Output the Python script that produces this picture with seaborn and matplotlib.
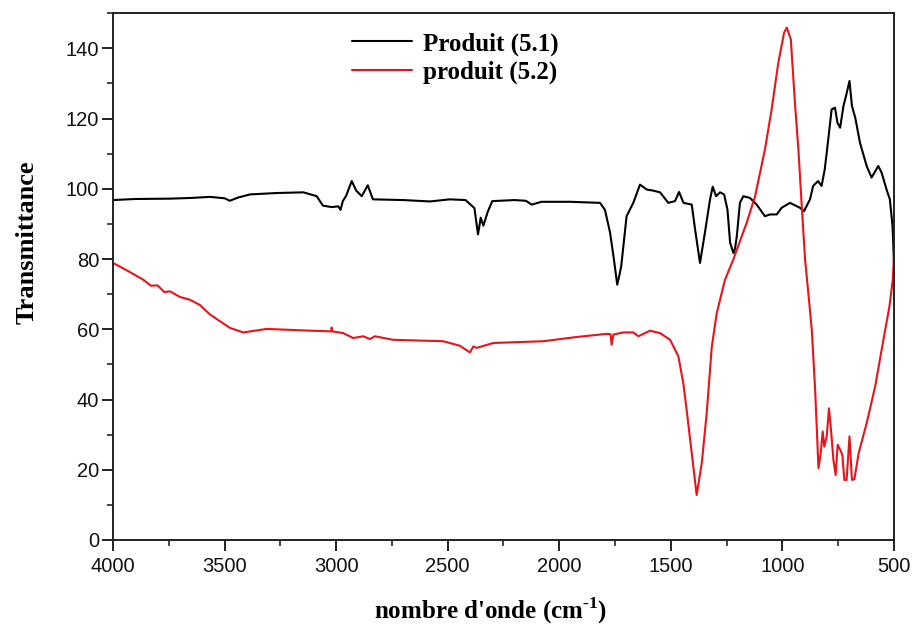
import matplotlib
matplotlib.use("Agg")
import matplotlib.pyplot as plt
from matplotlib.ticker import MultipleLocator
import pandas as pd
import seaborn as sns

# FTIR spectrum of product 5.1 (wavenumber in cm-1, transmittance)
wn_51 = [4000, 3900, 3744, 3650, 3565, 3500, 3476, 3440, 3386, 3266, 3147, 3087,
         3059, 3020, 2990, 2980, 2970, 2955, 2930, 2910, 2885, 2858, 2835, 2700,
         2579, 2490, 2420, 2380, 2364, 2355, 2352, 2340, 2320, 2300, 2200, 2150,
         2123, 2080, 1950, 1907, 1817, 1795, 1772, 1755, 1740, 1730, 1722, 1698,
         1668, 1638, 1608, 1580, 1548, 1511, 1481, 1463, 1443, 1406, 1391, 1369,
         1347, 1324, 1312, 1297, 1279, 1261, 1246, 1234, 1219, 1212, 1204, 1190,
         1175, 1145, 1115, 1078, 1055, 1025, 1003, 966, 921, 903, 876, 862, 840,
         824, 810, 801, 779, 764, 753, 741, 726, 714, 699, 688, 673, 652, 622,
         600, 570, 555, 533, 518, 506, 500]
t_51 = [96.8, 97.1, 97.2, 97.4, 97.7, 97.3, 96.6, 97.5, 98.4, 98.8, 99.0, 97.9,
        95.2, 94.8, 95.0, 94.0, 96.5, 98.0, 102.2, 99.5, 97.9, 101.0, 97.0, 96.8,
        96.4, 97.0, 96.8, 94.5, 87.0, 90.5, 91.8, 89.5, 93.5, 96.5, 96.8, 96.6,
        95.5, 96.3, 96.3, 96.2, 96.0, 94.0, 87.5, 80.0, 72.7, 75.5, 78.0, 92.2,
        96.0, 101.2, 99.8, 99.5, 99.0, 96.0, 96.5, 99.1, 96.0, 95.5, 88.4, 78.9,
        87.5, 97.0, 100.6, 97.9, 99.0, 98.4, 94.1, 84.6, 81.7, 83.0, 86.5, 96.0,
        97.9, 97.4, 95.5, 92.2, 92.7, 92.7, 94.6, 96.0, 94.6, 93.6, 97.0, 100.8, 102.2,
        100.8, 105.5, 110.3, 122.6, 123.1, 118.8, 117.4, 123.6, 126.6, 130.7, 123.6, 120.2, 113.1, 106.5,
        103.2, 106.5, 104.6, 99.8, 97.0, 89.3, 79.5]

# FTIR spectrum of product 5.2
wn_52 = [4000, 3930, 3864, 3830, 3800, 3770, 3744, 3700, 3655, 3610, 3565, 3476,
         3416, 3311, 3117, 3022, 3020, 3016, 2968, 2923, 2878, 2848, 2826, 2744,
         2520, 2445, 2400, 2385, 2370, 2295, 2071, 1922, 1787, 1770, 1765, 1757,
         1713, 1668, 1645, 1593, 1548, 1503, 1466, 1444, 1429, 1406, 1384, 1361,
         1339, 1316, 1294, 1257, 1219, 1160, 1122, 1078, 1048, 1018, 992, 980, 962,
         943, 928, 913, 898, 883, 868, 853, 838, 828, 819, 812, 801, 791, 782, 771,
         761, 752, 741, 731, 722, 712, 699, 688, 677, 658, 622, 584, 547, 520, 505, 500]
t_52 = [78.9, 76.5, 74.1, 72.4, 72.5, 70.6, 70.8, 69.2, 68.4, 66.9, 64.2, 60.4,
        59.1, 60.1, 59.6, 59.4, 60.5, 59.4, 58.9, 57.5, 58.0, 57.2, 58.0, 57.0,
        56.6, 55.3, 53.4, 55.1, 54.7, 56.1, 56.6, 57.8, 58.7, 58.6, 55.6, 58.5,
        59.1, 59.1, 58.0, 59.6, 58.9, 57.0, 52.3, 44.7, 37.1, 24.7, 12.8, 21.9,
        36.1, 55.1, 64.6, 74.1, 80.0, 90.3, 97.9, 111.2, 122.6, 135.9, 144.5, 145.9, 142.6,
        124.0, 111.2, 95.1, 79.8, 70.0, 59.9, 42.8, 20.4, 24.7, 30.9, 26.6, 29.5, 37.5, 31.4, 22.8,
        18.5, 27.1, 25.7, 24.2, 17.1, 17.1, 29.5, 17.1, 17.3, 24.7, 33.3, 43.7, 57.0, 66.5, 74.1, 80.4]

labels = ["Produit (5.1)", "produit (5.2)"]
colors = ["#000000", "#e8141b"]

df = pd.concat([
    pd.DataFrame({"wn": wn_51, "T": t_51, "s": labels[0]}),
    pd.DataFrame({"wn": wn_52, "T": t_52, "s": labels[1]}),
])

sns.set_style("ticks")
plt.rcParams["font.family"] = ["Liberation Sans", "DejaVu Sans"]
plt.rcParams["text.color"] = "#000000"
plt.rcParams["axes.labelcolor"] = "#000000"
plt.rcParams["mathtext.fontset"] = "custom"
plt.rcParams["mathtext.rm"] = "Liberation Serif:bold"
plt.rcParams["mathtext.bf"] = "Liberation Serif:bold"

fig = plt.figure(figsize=(9.14, 6.30), dpi=100)
ax = fig.add_axes([0.1236, 0.1429, 0.978 - 0.1236, 0.979 - 0.1429])

sns.lineplot(data=df, x="wn", y="T", hue="s", palette=colors, estimator=None,
             sort=False, linewidth=1.5, ax=ax)

ax.set_xlim(4000, 500)
ax.set_ylim(0, 150)
ax.xaxis.set_major_locator(MultipleLocator(500))
ax.xaxis.set_minor_locator(MultipleLocator(250))
ax.yaxis.set_major_locator(MultipleLocator(20))
ax.yaxis.set_minor_locator(MultipleLocator(10))
ax.tick_params(which="major", direction="out", length=8, width=1.3,
               labelsize=14.5, colors="#111111")
ax.tick_params(axis="x", which="major", pad=4)
ax.tick_params(axis="y", which="major", pad=2)
ax.tick_params(which="minor", direction="out", length=4.5, width=1.2)
ax.tick_params(top=False, right=False, which="both")
for sp in ax.spines.values():
    sp.set_linewidth(1.4)
    sp.set_color("#222222")
    sp.set_visible(True)

serif = ["Liberation Serif", "DejaVu Serif"]
ax.set_xlabel("nombre d'onde (cm$^{\\text{-1}}$)", fontsize=18, fontweight="bold",
              family=serif, color="#000000")
ax.xaxis.set_label_coords(0.483, -0.106)
ax.set_ylabel("Transmittance", fontsize=19, fontweight="bold", family=serif,
              color="#000000")
ax.yaxis.set_label_coords(-0.095, 0.565)

leg = ax.legend(loc="upper left", bbox_to_anchor=(0.306, 0.964), frameon=False,
                borderpad=0, borderaxespad=0,
                handlelength=2.4, handletextpad=0.45, labelspacing=0.2,
                prop={"family": serif, "weight": "bold", "size": 18})
for line in leg.get_lines():
    line.set_linewidth(1.5)
for txt in leg.get_texts():
    txt.set_color("#000000")

fig.savefig("out.png", dpi=100)
